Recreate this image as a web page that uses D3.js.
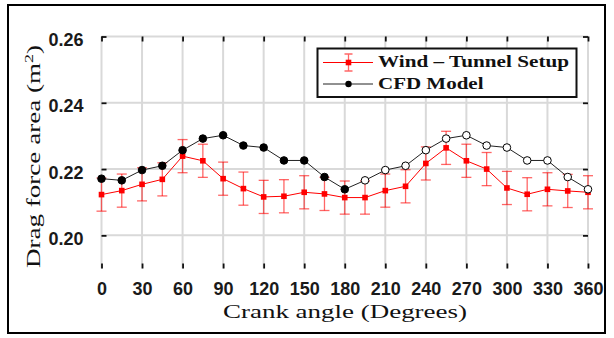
<!DOCTYPE html>
<html>
<head>
<meta charset="utf-8">
<script src="https://cdn.jsdelivr.net/npm/d3@7"></script>
<style>
  body { margin: 0; background: #fff; }
  svg { display: block; }
</style>
</head>
<body>
<div id="chart"></div>
<script>
// crank angle (degrees)
const angles = [0, 15, 30, 45, 60, 75, 90, 105, 120, 135, 150, 165, 180,
  195, 210, 225, 240, 255, 270, 285, 300, 315, 330, 345, 360];
const xTicks = [0, 30, 60, 90, 120, 150, 180, 210, 240, 270, 300, 330, 360];
const yTicks = [0.20, 0.22, 0.24, 0.26];

// drag force area (m^2)
const windTunnel = [0.2123, 0.2135, 0.2154, 0.2169, 0.2239, 0.2225, 0.2171,
  0.2141, 0.2116, 0.2118, 0.2130, 0.2125, 0.2114, 0.2114, 0.2135, 0.2148,
  0.2217, 0.2264, 0.2225, 0.2200, 0.2143, 0.2124, 0.2139, 0.2134, 0.2130];
const windTunnelErr = [0.005, 0.005, 0.005, 0.005, 0.005, 0.005, 0.005,
  0.005, 0.005, 0.005, 0.005, 0.005, 0.005, 0.005, 0.005, 0.005, 0.005,
  0.005, 0.005, 0.005, 0.005, 0.005, 0.005, 0.005, 0.005];
const cfd = [0.2171, 0.2166, 0.2197, 0.2210, 0.2257, 0.2292, 0.2302, 0.2271,
  0.2265, 0.2226, 0.2226, 0.2176, 0.2139, 0.2166, 0.2197, 0.2210, 0.2257,
  0.2292, 0.2302, 0.2271, 0.2265, 0.2226, 0.2226, 0.2176, 0.2139];
// cfd markers past this angle are drawn hollow
const cfdFilledUpTo = 180;

const legendLabels = ['Wind \u2013 Tunnel Setup', 'CFD Model'];

const W = 614;
const H = 338;
const plot = {left: 101.5, right: 588, top: 36.5, bottom: 268.5};

const svg = d3.select('#chart').append('svg')
    .attr('width', W)
    .attr('height', H);

svg.append('rect').attr('width', W).attr('height', H).attr('fill', '#fff');

// outer frame
svg.append('rect')
    .attr('x', 8).attr('y', 5)
    .attr('width', 597).attr('height', 328)
    .attr('fill', 'none')
    .attr('stroke', '#000')
    .attr('stroke-width', 2);

const x = d3.scaleLinear().domain([0, 360]).range([plot.left, plot.right]);
const y = d3.scaleLinear().domain([0.19, 0.26]).range([plot.bottom, plot.top]);

// grid
const grid = svg.append('g')
    .attr('stroke', '#d9d9d9')
    .attr('stroke-width', 2);
grid.selectAll('.vg').data(xTicks).enter().append('line')
    .attr('x1', (d) => x(d)).attr('x2', (d) => x(d))
    .attr('y1', plot.top).attr('y2', plot.bottom);
grid.selectAll('.hg').data(yTicks).enter().append('line')
    .attr('y1', (d) => y(d)).attr('y2', (d) => y(d))
    .attr('x1', plot.left).attr('x2', plot.right);

// axes (ticks pointing inward)
const tickFont = (g) => {
  g.select('.domain').remove();
  g.selectAll('.tick line').attr('stroke', '#111').attr('stroke-width', 1.8);
  g.selectAll('.tick text')
      .attr('fill', '#1a1a1a')
      .style('font-family', '\'Liberation Sans\', Arial, sans-serif')
      .style('font-weight', 'bold')
      .style('font-size', '18px');
};

svg.append('g')
    .attr('transform', 'translate(0,' + plot.bottom + ')')
    .call(d3.axisBottom(x).tickValues(xTicks).tickSize(-5).tickPadding(14)
        .tickFormat(d3.format('d')))
    .call(tickFont);

svg.append('g')
    .attr('transform', 'translate(0,' + plot.top + ')')
    .call(d3.axisTop(x).tickValues(xTicks).tickSize(-5).tickFormat(''))
    .call(tickFont);

svg.append('g')
    .attr('transform', 'translate(' + plot.left + ',0)')
    .call(d3.axisLeft(y).tickValues(yTicks).tickSize(-5).tickPadding(18)
        .tickFormat(d3.format('.2f')))
    .call(tickFont)
    .selectAll('.tick text').attr('dy', '0.5em');

svg.append('g')
    .attr('transform', 'translate(' + plot.right + ',0)')
    .call(d3.axisRight(y).tickValues(yTicks).tickSize(-5).tickFormat(''))
    .call(tickFont);

// wind tunnel series with error bars
const wt = angles.map((a, i) => ({a: a, v: windTunnel[i], e: windTunnelErr[i]}));

const eb = svg.append('g')
    .attr('stroke', '#ff0000')
    .attr('stroke-opacity', 0.6)
    .attr('stroke-width', 1.3);
eb.selectAll('.ev').data(wt).enter().append('line')
    .attr('x1', (d) => x(d.a)).attr('x2', (d) => x(d.a))
    .attr('y1', (d) => y(d.v - d.e)).attr('y2', (d) => y(d.v + d.e));
eb.selectAll('.et').data(wt).enter().append('line')
    .attr('x1', (d) => x(d.a) - 5).attr('x2', (d) => x(d.a) + 5)
    .attr('y1', (d) => y(d.v + d.e)).attr('y2', (d) => y(d.v + d.e));
eb.selectAll('.eb').data(wt).enter().append('line')
    .attr('x1', (d) => x(d.a) - 5).attr('x2', (d) => x(d.a) + 5)
    .attr('y1', (d) => y(d.v - d.e)).attr('y2', (d) => y(d.v - d.e));

const line = d3.line()
    .x((d) => x(d.a))
    .y((d) => y(d.v));

svg.append('path')
    .datum(wt)
    .attr('fill', 'none')
    .attr('stroke', '#ff0000')
    .attr('stroke-width', 1)
    .attr('d', line);

svg.append('g').selectAll('rect').data(wt).enter().append('rect')
    .attr('x', (d) => x(d.a) - 2.8)
    .attr('y', (d) => y(d.v) - 2.8)
    .attr('width', 5.6).attr('height', 5.6)
    .attr('fill', '#ff0000');

// CFD series
const cf = angles.map((a, i) => ({a: a, v: cfd[i]}));

svg.append('path')
    .datum(cf)
    .attr('fill', 'none')
    .attr('stroke', '#222')
    .attr('stroke-width', 1)
    .attr('d', line);

svg.append('g').selectAll('circle').data(cf).enter().append('circle')
    .attr('cx', (d) => x(d.a))
    .attr('cy', (d) => y(d.v))
    .attr('r', 3.8)
    .attr('fill', (d) => d.a <= cfdFilledUpTo ? '#000' : '#fff')
    .attr('stroke', '#000')
    .attr('stroke-width', 1);

// legend
const lg = svg.append('g');
lg.append('rect')
    .attr('x', 317.5).attr('y', 48.5)
    .attr('width', 259).attr('height', 48.5)
    .attr('fill', '#fff')
    .attr('stroke', '#111')
    .attr('stroke-width', 2);

const r1 = 62.5;
const r2 = 84;
lg.append('line').attr('x1', 323).attr('x2', 373).attr('y1', r1).attr('y2', r1)
    .attr('stroke', '#ff0000').attr('stroke-width', 1);
lg.append('path')
    .attr('d', 'M348.5,54V71M344.5,54H352.5M344.5,71H352.5')
    .attr('stroke', '#ff0000').attr('stroke-opacity', 0.6).attr('stroke-width', 1.3)
    .attr('fill', 'none');
lg.append('rect').attr('x', 345.7).attr('y', r1 - 2.8)
    .attr('width', 5.6).attr('height', 5.6).attr('fill', '#ff0000');
lg.append('line').attr('x1', 323).attr('x2', 373).attr('y1', r2).attr('y2', r2)
    .attr('stroke', '#222').attr('stroke-width', 1);
lg.append('circle').attr('cx', 348.5).attr('cy', r2).attr('r', 3.2).attr('fill', '#000');

lg.selectAll('text').data(legendLabels).enter().append('text')
    .attr('x', 378)
    .attr('y', (d, i) => i == 0 ? 66.8 : 88.5)
    .attr('textLength', (d, i) => i == 0 ? 191 : 105.5)
    .attr('lengthAdjust', 'spacingAndGlyphs')
    .style('font-family', '\'Liberation Serif\', \'Times New Roman\', serif')
    .style('font-weight', 'bold')
    .style('font-size', '17px')
    .attr('fill', '#111')
    .text((d) => d);

// axis titles
svg.append('text')
    .attr('x', 223)
    .attr('y', 318)
    .attr('textLength', 244)
    .attr('lengthAdjust', 'spacingAndGlyphs')
    .style('font-family', '\'Liberation Serif\', \'Times New Roman\', serif')
    .style('font-size', '19px')
    .attr('fill', '#111')
    .text('Crank angle (Degrees)');

const yl = svg.append('text')
    .attr('transform', 'translate(40,156.5) rotate(-90)')
    .attr('text-anchor', 'middle')
    .attr('textLength', 223)
    .attr('lengthAdjust', 'spacingAndGlyphs')
    .style('font-family', '\'Liberation Serif\', \'Times New Roman\', serif')
    .style('font-size', '19.5px')
    .attr('fill', '#111');
yl.append('tspan').text('Drag force area (m');
yl.append('tspan').attr('baseline-shift', 'super').style('font-size', '13px').text('2');
yl.append('tspan').text(')');
</script>
</body>
</html>
